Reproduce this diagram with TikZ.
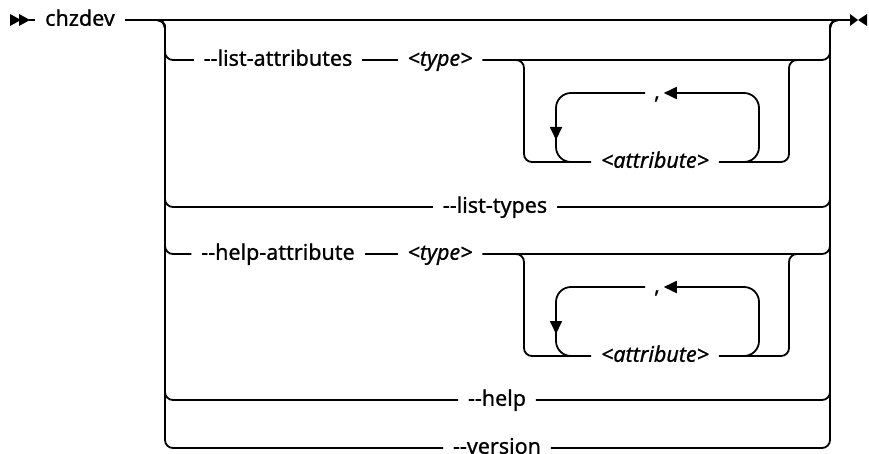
\documentclass[tikz,border=0pt]{standalone}
\usepackage{fontspec}
\setmainfont{Noto Sans}[FakeBold=0.8]
\usetikzlibrary{arrows.meta}
\begin{document}
\fontsize{21.5}{24}\selectfont
\begin{tikzpicture}[x=1pt,y=-1pt,line width=1.8pt,
  txt/.style={font=\fontsize{21.5}{24}\selectfont\bfseries, inner xsep=9pt, inner ysep=2pt, anchor=mid},
  rr/.style={rounded corners=8pt},
  lp/.style={rounded corners=15pt},
  tip/.style={-{Triangle[length=13pt,width=12pt]}}]
\useasboundingbox (0,0) rectangle (869,454);
% start marker
\fill (10,14) -- (21,20) -- (10,26) -- cycle;
\fill (19,14) -- (30,20) -- (19,26) -- cycle;
\coordinate (s) at (29,20);
\node[txt] (cmd) at (80,20) {chzdev};
\draw (s) -- (cmd.mid west);
\coordinate (e) at (850,20);
\draw (cmd.mid east) -- (e);
% end marker
\fill (850,14) -- (858,20) -- (850,26) -- cycle;
\fill (867,14) -- (858,20) -- (867,26) -- cycle;

% row 1
\node[txt] (la) at (278,60) {-{}-list-attributes};
\node[txt] (t1) at (440,60) {\textit{<type>}};
\draw[rr] (150,20) -- (165,20) -- (165,60) -- (la.mid west);
\draw (la.mid east) -- (t1.mid west);
\draw[rr] (t1.mid east) -- (830,60) -- (830,20) -- (845,20);
\node[txt] (a1) at (655,162) {\textit{<attribute>}};
\draw[rr] (510,60) -- (524,60) -- (524,162) -- (a1.mid west);
\draw[rr] (a1.mid east) -- (789,162) -- (789,60) -- (800,60);
\node[txt, inner xsep=3pt] (c1) at (657,93) {,};
\draw[lp,tip] (735,162) -- (759,162) -- (759,93) -- (c1.mid east);
\draw[lp] ([xshift=-5pt]c1.mid west) -- (556,93) -- (556,162) -- (585,162);
\draw[tip] (556,122) -- (556,140);

% row 2
\node[txt] (lt) at (495,207) {-{}-list-types};
\draw[rr] (150,20) -- (165,20) -- (165,207) -- (lt.mid west);
\draw[rr] (lt.mid east) -- (830,207) -- (830,20) -- (845,20);

% row 3
\node[txt] (ha) at (278,254) {-{}-help-attribute};
\node[txt] (t3) at (440,254) {\textit{<type>}};
\draw[rr] (150,20) -- (165,20) -- (165,254) -- (ha.mid west);
\draw (ha.mid east) -- (t3.mid west);
\draw[rr] (t3.mid east) -- (830,254) -- (830,20) -- (845,20);
\node[txt] (a3) at (655,356) {\textit{<attribute>}};
\draw[rr] (510,254) -- (524,254) -- (524,356) -- (a3.mid west);
\draw[rr] (a3.mid east) -- (789,356) -- (789,254) -- (800,254);
\node[txt, inner xsep=3pt] (c3) at (657,287) {,};
\draw[lp,tip] (735,356) -- (759,356) -- (759,287) -- (c3.mid east);
\draw[lp] ([xshift=-5pt]c3.mid west) -- (556,287) -- (556,356) -- (585,356);
\draw[tip] (556,316) -- (556,334);

% row 4
\node[txt] (hp) at (497,400) {-{}-help};
\draw[rr] (150,20) -- (165,20) -- (165,400) -- (hp.mid west);
\draw[rr] (hp.mid east) -- (830,400) -- (830,20) -- (845,20);

% row 5
\node[txt] (vs) at (497,448) {-{}-version};
\draw[rr] (150,20) -- (165,20) -- (165,448) -- (vs.mid west);
\draw[rr] (vs.mid east) -- (830,448) -- (830,20) -- (845,20);
\end{tikzpicture}
\end{document}
